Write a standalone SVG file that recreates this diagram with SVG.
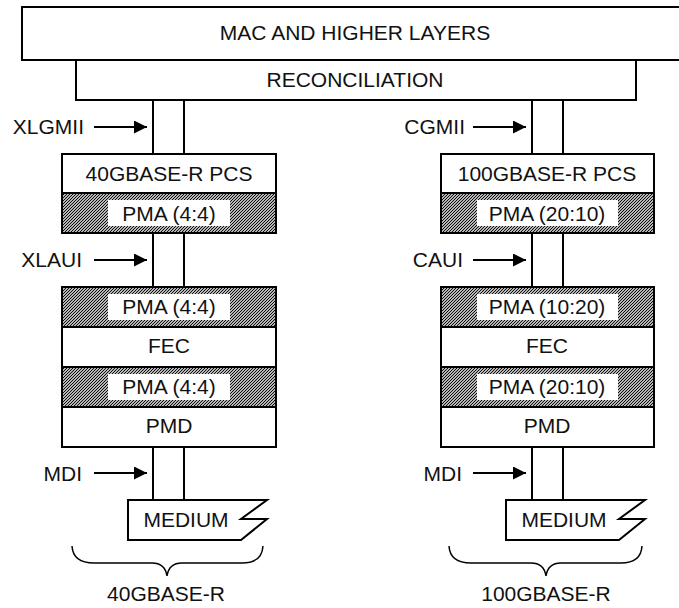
<svg xmlns="http://www.w3.org/2000/svg" width="679" height="608" viewBox="0 0 679 608">
  <defs>
    <!-- diagonal hatch used for PMA sublayers -->
    <pattern id="hatch" patternUnits="userSpaceOnUse" width="3" height="3">
      <rect width="3" height="3" fill="#fff"/>
      <path d="M-1,1 L1,-1 M0,3 L3,0 M2,4 L4,2" stroke="#000" stroke-width="1.1"/>
    </pattern>
    <marker id="arrow" markerWidth="13" markerHeight="13" refX="13" refY="6.5" orient="auto" markerUnits="userSpaceOnUse">
      <path d="M0,0 L13,6.5 L0,13 Z" fill="#000"/>
    </marker>
  </defs>
  <style>
    text { font-family: "Liberation Sans", Arial, sans-serif; font-size: 21px; fill: #111; text-anchor: middle; }
    .lbl { text-anchor: end; }
    .box { fill: #fff; stroke: #000; stroke-width: 2; }
    .pma { fill: url(#hatch); stroke: #000; stroke-width: 2; }
    .inset { fill: #fff; stroke: none; }
    .bus { stroke: #000; stroke-width: 2; fill: none; }
    .ptr { stroke: #000; stroke-width: 2; fill: none; marker-end: url(#arrow); }
    .brace { stroke: #000; stroke-width: 1.5; fill: none; }
  </style>
  <rect width="679" height="608" fill="#fff"/>

  <!-- common upper layers -->
  <g id="mac">
    <rect class="box" x="22" y="7" width="680" height="53"/>
    <text x="355" y="40">MAC AND HIGHER LAYERS</text>
  </g>
  <g id="reconciliation">
    <rect class="box" x="76" y="60" width="560" height="40"/>
    <text x="355" y="87">RECONCILIATION</text>
  </g>

  <!-- connectors: interface buses and pointer arrows -->
  <g id="connectors">
    <path class="bus" d="M153,100 V154 M184,100 V154 M153,233 V287 M184,233 V287 M153,447 V500 M184,447 V500"/>
    <path class="bus" d="M532,100 V154 M563,100 V154 M532,233 V287 M563,233 V287 M532,447 V500 M563,447 V500"/>
    <line class="ptr" x1="94" y1="127" x2="147" y2="127"/>
    <line class="ptr" x1="94" y1="260" x2="147" y2="260"/>
    <line class="ptr" x1="94" y1="473" x2="147" y2="473"/>
    <line class="ptr" x1="473" y1="127" x2="526" y2="127"/>
    <line class="ptr" x1="473" y1="260" x2="526" y2="260"/>
    <line class="ptr" x1="473" y1="473" x2="526" y2="473"/>
  </g>

  <!-- interface labels -->
  <g id="labels">
    <text class="lbl" x="84" y="134">XLGMII</text>
    <text class="lbl" x="82" y="267">XLAUI</text>
    <text class="lbl" x="82" y="481">MDI</text>
    <text class="lbl" x="465" y="134">CGMII</text>
    <text class="lbl" x="463" y="267">CAUI</text>
    <text class="lbl" x="462" y="481">MDI</text>
  </g>

  <!-- 40GBASE-R stack -->
  <g id="pcs40">
    <rect class="box" x="62" y="154" width="214" height="39"/>
    <text x="169" y="181">40GBASE-R PCS</text>
  </g>
  <g id="pma40a">
    <rect class="pma" x="62" y="193" width="214" height="40"/>
    <rect class="inset" x="108" y="200" width="122" height="26"/>
    <text x="169" y="221">PMA (4:4)</text>
  </g>
  <g id="pma40b">
    <rect class="pma" x="62" y="287" width="214" height="40"/>
    <rect class="inset" x="108" y="294" width="122" height="26"/>
    <text x="169" y="314">PMA (4:4)</text>
  </g>
  <g id="fec40">
    <rect class="box" x="62" y="327" width="214" height="40"/>
    <text x="169" y="353">FEC</text>
  </g>
  <g id="pma40c">
    <rect class="pma" x="62" y="367" width="214" height="40"/>
    <rect class="inset" x="108" y="374" width="122" height="26"/>
    <text x="169" y="394">PMA (4:4)</text>
  </g>
  <g id="pmd40">
    <rect class="box" x="62" y="407" width="214" height="40"/>
    <text x="169" y="433">PMD</text>
  </g>
  <g id="medium40">
    <path class="box" d="M128,500 H267 L241,519 H267 L241,540 H128 Z"/>
    <text x="186" y="527">MEDIUM</text>
  </g>
  <g id="brace40">
    <path class="brace" d="M72,546 Q73,563 94,563 H152 Q165,563 167,576 Q169,563 182,563 H242 Q262,563 263,546"/>
    <text x="166" y="601">40GBASE-R</text>
  </g>

  <!-- 100GBASE-R stack -->
  <g id="pcs100">
    <rect class="box" x="441" y="154" width="213" height="39"/>
    <text x="547" y="181">100GBASE-R PCS</text>
  </g>
  <g id="pma100a">
    <rect class="pma" x="441" y="193" width="213" height="40"/>
    <rect class="inset" x="477" y="200" width="141" height="26"/>
    <text x="547" y="221">PMA (20:10)</text>
  </g>
  <g id="pma100b">
    <rect class="pma" x="441" y="287" width="213" height="40"/>
    <rect class="inset" x="477" y="294" width="141" height="26"/>
    <text x="547" y="314">PMA (10:20)</text>
  </g>
  <g id="fec100">
    <rect class="box" x="441" y="327" width="213" height="40"/>
    <text x="547" y="353">FEC</text>
  </g>
  <g id="pma100c">
    <rect class="pma" x="441" y="367" width="213" height="40"/>
    <rect class="inset" x="477" y="374" width="141" height="26"/>
    <text x="547" y="394">PMA (20:10)</text>
  </g>
  <g id="pmd100">
    <rect class="box" x="441" y="407" width="213" height="40"/>
    <text x="547" y="433">PMD</text>
  </g>
  <g id="medium100">
    <path class="box" d="M506,500 H645 L619,519 H645 L619,540 H506 Z"/>
    <text x="564" y="527">MEDIUM</text>
  </g>
  <g id="brace100">
    <path class="brace" d="M449,546 Q450,563 471,563 H531 Q544,563 546,576 Q548,563 561,563 H621 Q641,563 642,546"/>
    <text x="546" y="601">100GBASE-R</text>
  </g>
</svg>
